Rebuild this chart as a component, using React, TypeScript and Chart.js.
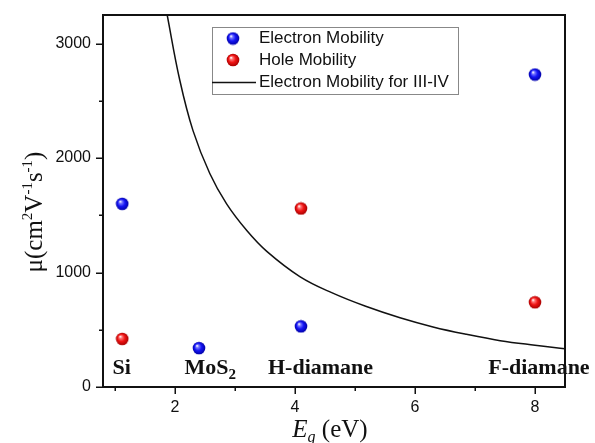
import React, { useEffect, useRef } from "react";
import { Chart, registerables } from "chart.js";

Chart.register(...registerables);

// ---- data ----
const materials = ["Si", "MoS2", "H-diamane", "F-diamane"];
const bandGap = [1.12, 2.4, 4.1, 8.0];
const electronMobility = [1600, 340, 530, 2730];
const holeMobility: (number | null)[] = [420, null, 1560, 740];

const curveX = [1.8, 1.87, 2.08, 2.3, 2.58, 2.86, 3.2, 3.53, 4.08, 4.63, 5.19, 5.75, 6.3, 6.86, 7.42, 8.0, 8.5];
const curveY = [3450, 3250, 2680, 2240, 1865, 1600, 1365, 1185, 965, 820, 703, 605, 525, 460, 405, 365, 335];

const xTicks = [1, 2, 3, 4, 5, 6, 7, 8];
const yTicks = [0, 500, 1000, 1500, 2000, 2500, 3000];

const legendLabels = ["Electron Mobility", "Hole Mobility", "Electron Mobility for III-IV"];

const SANS = "'Liberation Sans', Arial, sans-serif";
const SERIF = "'Liberation Serif', 'Times New Roman', serif";

function makeSphere(hi: string, mid: string, edge: string): HTMLCanvasElement {
  const c = document.createElement("canvas");
  c.width = 14;
  c.height = 14;
  const g = c.getContext("2d")!;
  const r = 6.3;
  const grad = g.createRadialGradient(5, 4.6, 0.3, 7, 7, r);
  grad.addColorStop(0, "#ffffff");
  grad.addColorStop(0.2, hi);
  grad.addColorStop(0.55, mid);
  grad.addColorStop(1, edge);
  g.fillStyle = grad;
  g.beginPath();
  g.arc(7, 7, r, 0, Math.PI * 2);
  g.fill();
  return c;
}

export default function App() {
  const ref = useRef<HTMLCanvasElement | null>(null);

  useEffect(() => {
    document.body.style.margin = "0";
    const blue = makeSphere("#7878ff", "#1515f5", "#0000a8");
    const red = makeSphere("#ff7878", "#f01515", "#a80000");

    const framePlugin = {
      id: "frame",
      afterDraw(chart: any) {
        const { ctx, chartArea: a, scales } = chart;
        const xs = scales.x;
        const ys = scales.y;
        ctx.save();
        // frame
        ctx.strokeStyle = "#111";
        ctx.lineWidth = 2;
        ctx.strokeRect(a.left, a.top, a.right - a.left, a.bottom - a.top);
        // ticks
        ctx.lineWidth = 1.5;
        ctx.beginPath();
        yTicks.forEach((v) => {
          const y = Math.round(ys.getPixelForValue(v)) + 0.25;
          const len = v % 1000 === 0 ? 7 : 4;
          ctx.moveTo(a.left, y);
          ctx.lineTo(a.left - len, y);
        });
        xTicks.forEach((v) => {
          const x = Math.round(xs.getPixelForValue(v)) + 0.25;
          const len = v % 2 === 0 ? 7 : 4;
          ctx.moveTo(x, a.bottom);
          ctx.lineTo(x, a.bottom + len);
        });
        ctx.stroke();

        // legend
        const lx = 212, ly = 27, lw = 246, lh = 67;
        ctx.fillStyle = "#fff";
        ctx.fillRect(lx, ly, lw, lh);
        ctx.strokeStyle = "#888";
        ctx.lineWidth = 1;
        ctx.strokeRect(lx + 0.5, ly + 0.5, lw, lh);
        const rows = [38.5, 60, 82.5];
        ctx.drawImage(blue, 233 - 7, rows[0] - 7);
        ctx.drawImage(red, 233 - 7, rows[1] - 7);
        ctx.strokeStyle = "#111";
        ctx.lineWidth = 1.5;
        ctx.beginPath();
        ctx.moveTo(lx, rows[2]);
        ctx.lineTo(256, rows[2]);
        ctx.stroke();
        ctx.fillStyle = "#111";
        ctx.font = `17px ${SANS}`;
        ctx.textBaseline = "middle";
        ctx.textAlign = "left";
        legendLabels.forEach((t, i) => ctx.fillText(t, 259, rows[i]));

        // material labels
        const leftEg = [0.96, 2.16, 3.55, 7.22];
        ctx.textBaseline = "alphabetic";
        const base = a.bottom - 13;
        materials.forEach((m, i) => {
          let x = xs.getPixelForValue(leftEg[i]);
          const match = m.match(/^(.*?)(\d+)$/);
          ctx.font = `bold 22px ${SERIF}`;
          if (match) {
            ctx.fillText(match[1], x, base);
            x += ctx.measureText(match[1]).width;
            ctx.font = `bold 15px ${SERIF}`;
            ctx.fillText(match[2], x, base + 5);
          } else {
            ctx.fillText(m, x, base);
          }
        });

        // x title
        const xt = [
          { t: "E", f: `italic 25px ${SERIF}`, dy: 0 },
          { t: "g", f: `italic 16px ${SERIF}`, dy: 5 },
          { t: " (eV)", f: `25px ${SERIF}`, dy: 0 },
        ];
        let w = 0;
        xt.forEach((p) => { ctx.font = p.f; w += ctx.measureText(p.t).width; });
        let cx = 330 - w / 2;
        xt.forEach((p) => { ctx.font = p.f; ctx.fillText(p.t, cx, 437 + p.dy); cx += ctx.measureText(p.t).width; });

        // y title
        const yt = [
          { t: "\u03bc(cm", f: `25px ${SERIF}`, dy: 0 },
          { t: "2", f: `15px ${SERIF}`, dy: -10 },
          { t: "V", f: `25px ${SERIF}`, dy: 0 },
          { t: "-1", f: `15px ${SERIF}`, dy: -10 },
          { t: "s", f: `25px ${SERIF}`, dy: 0 },
          { t: "-1", f: `15px ${SERIF}`, dy: -10 },
          { t: ")", f: `25px ${SERIF}`, dy: 0 },
        ];
        ctx.save();
        ctx.translate(42, 212);
        ctx.rotate(-Math.PI / 2);
        w = 0;
        yt.forEach((p) => { ctx.font = p.f; w += ctx.measureText(p.t).width; });
        cx = -w / 2;
        yt.forEach((p) => { ctx.font = p.f; ctx.fillText(p.t, cx, p.dy); cx += ctx.measureText(p.t).width; });
        ctx.restore();

        ctx.restore();
      },
    };

    const chart = new Chart(ref.current!, {
      type: "scatter",
      data: {
        datasets: [
          {
            label: legendLabels[2],
            data: curveX.map((x, i) => ({ x, y: curveY[i] })),
            showLine: true,
            borderColor: "#111",
            borderWidth: 1.5,
            pointRadius: 0,
            tension: 0.4,
          } as any,
          {
            label: legendLabels[0],
            data: bandGap.map((x, i) => ({ x, y: electronMobility[i] })),
            pointStyle: blue,
            pointRadius: 7,
          } as any,
          {
            label: legendLabels[1],
            data: bandGap
              .map((x, i) => ({ x, y: holeMobility[i] }))
              .filter((p) => p.y !== null),
            pointStyle: red,
            pointRadius: 7,
          } as any,
        ],
      },
      options: {
        animation: false,
        responsive: true,
        maintainAspectRatio: false,
        layout: { padding: { top: 15, right: 30, left: 0, bottom: 0 } },
        plugins: { legend: { display: false }, tooltip: { enabled: false } },
        scales: {
          x: {
            type: "linear",
            min: 0.8,
            max: 8.5,
            grid: { display: false, drawTicks: false },
            border: { display: false },
            afterBuildTicks: (s: any) => { s.ticks = xTicks.map((v) => ({ value: v })); },
            afterFit: (s: any) => { s.height = 56; s.paddingLeft = 0; s.paddingRight = 0; },
            ticks: {
              autoSkip: false,
              maxRotation: 0,
              padding: 11,
              color: "#111",
              font: { family: SANS, size: 16 },
              callback: (v: any) => (Number(v) % 2 === 0 ? String(v) : ""),
            },
          },
          y: {
            type: "linear",
            min: 0,
            max: 3250,
            grid: { display: false, drawTicks: false },
            border: { display: false },
            afterBuildTicks: (s: any) => { s.ticks = yTicks.map((v) => ({ value: v })); },
            afterFit: (s: any) => { s.width = 103; s.paddingTop = 0; s.paddingBottom = 0; },
            ticks: {
              autoSkip: false,
              padding: 12,
              color: "#111",
              font: { family: SANS, size: 16 },
              callback: (v: any) => (Number(v) % 1000 === 0 ? String(v) : ""),
            },
          },
        },
      },
      plugins: [framePlugin],
    });
    return () => chart.destroy();
  }, []);

  return (
    <div style={{ position: "absolute", left: 0, top: 0, width: 595, height: 443, background: "#fff" }}>
      <canvas ref={ref} />
    </div>
  );
}
